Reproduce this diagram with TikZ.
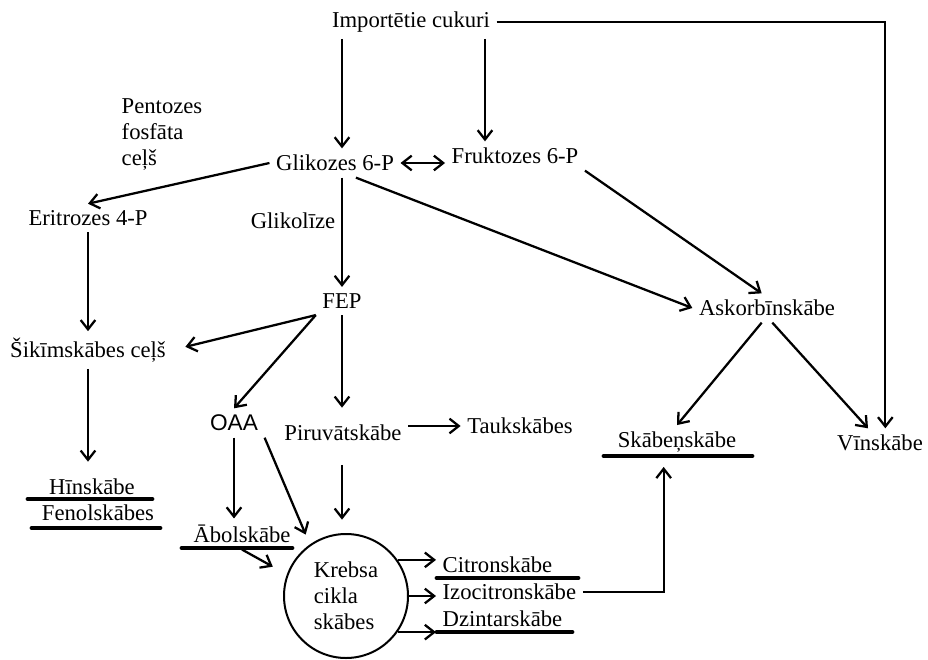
\documentclass[tikz,border=0pt]{standalone}
\usepackage{fontspec}
\setmainfont{Liberation Serif}
\newfontfamily\oaafont{Liberation Sans}
\usetikzlibrary{arrows.meta,calc}

\begin{document}
\begin{tikzpicture}[x=0.75pt,y=-0.75pt,font=\fontsize{17}{19.5}\selectfont,
    lbl/.style={inner sep=2pt,outer sep=3pt},
    flow/.style={-{Straight Barb[length=7pt,width=11pt]},line width=1.7pt},
    underbar/.style={line width=3.6pt,line cap=round}]
  \useasboundingbox (0,0) rectangle (928,660);
  % metabolites
  \node[lbl] (imp) at (411,22) {Importētie cukuri};
  \node[lbl] (glik) at (335,163) {Glikozes 6-P};
  \node[lbl] (fru) at (515,156) {Fruktozes 6-P};
  \node[lbl,align=left] (pent) at (162,134) {Pentozes\\fosfāta\\ceļš};
  \node[lbl] (eri) at (88,218) {Eritrozes 4-P};
  \node[lbl] (glk) at (293,221) {Glikolīze};
  \node[lbl] (fep) at (342,301) {FEP};
  \node[lbl] (asc) at (767,308) {Askorbīnskābe};
  \node[lbl] (sik) at (88,350) {Šikīmskābes ceļš};
  \node[lbl,font=\oaafont\fontsize{17}{19.5}\selectfont] (oaa) at (234,423) {OAA};
  \node[lbl] (pir) at (343,433) {Piruvātskābe};
  \node[lbl] (tau) at (520,426) {Taukskābes};
  \node[lbl] (skb) at (677,442) {Skābeņskābe};
  \node[lbl] (vin) at (880,443) {Vīnskābe};
  \node[lbl] (hin) at (92,487) {Hīnskābe};
  \node[lbl] (fen) at (98,513) {Fenolskābes};
  \node[lbl] (abo) at (242,534) {Ābolskābe};
  \node[circle,draw,line width=1.5pt,minimum size=93pt,inner sep=0pt,align=left] (kre) at (346,596) {Krebsa\\cikla\\skābes};
  \node[lbl,anchor=west] (cit) at (436,565) {Citronskābe};
  \node[lbl,anchor=west] (izo) at (436,592) {Izocitronskābe};
  \node[lbl,anchor=west] (dzi) at (436,619) {Dzintarskābe};
  % underlined acids
  \draw[underbar] (28,499) -- (152,499);
  \draw[underbar] (32,528) -- (160,528);
  \draw[underbar] (182,548) -- (292,548);
  \draw[underbar] (437,578) -- (578,578);
  \draw[underbar] (437,632) -- (572,632);
  \draw[underbar] (604,456) -- (752,456);
  % arrows
  \draw[flow] (imp.south -| fep) -- (glik.north -| fep);
  \draw[flow] ($(imp.south -| fru)+(-30,0)$) -- ($(fru.north)+(-30,0)$);
  \draw[flow,{Straight Barb[length=7pt,width=11pt]}-{Straight Barb[length=7pt,width=11pt]}] (glik.east) -- (glik.east -| fru.west);
  \draw[flow] (glik.west) -- (eri.north);
  \draw[flow] (glik.south -| fep) -- (fep.north);
  \draw[flow] (glik.-35) -- (asc.west);
  \draw[flow] (fru.south east) -- (asc.110);
  \draw[flow] (eri.south) -- (sik.north);
  \draw[flow,shorten >=10pt] (fep.south west) -- (sik.east);
  \draw[flow] (fep.south west) -- (oaa.north);
  \draw[flow,shorten >=8pt] (fep.south) -- (fep.south |- pir.north);
  \draw[flow] (pir.east |- tau) -- (tau.west);
  \draw[flow,shorten >=8pt] (sik.south) -- (sik.south |- hin.north);
  \draw[flow] (oaa.south) -- (oaa.south |- abo.north);
  \draw[flow,shorten >=8pt] (oaa.south east) -- (kre.125);
  \draw[flow,shorten <=13pt,shorten >=10pt] (pir.south -| fep) -- (kre.north -| fep);
  \draw[flow,shorten >=12pt] (abo.south) -- (kre.160);
  \draw[flow] (kre.35) -- (kre.35 -| cit.west);
  \draw[flow] (kre.east) -- (kre.east -| izo.west);
  \draw[flow] (kre.-35) -- (kre.-35 -| dzi.west);
  \draw[flow] (izo.east) -| ([xshift=-10pt,yshift=-6pt]skb.south);
  \draw[flow] (asc.-110) -- (skb.north);
  \draw[flow] (asc.-70) -- ([xshift=-9pt]vin.north);
  \draw[flow] (imp.east) -| ([xshift=4pt]vin.north);
\end{tikzpicture}
\end{document}
